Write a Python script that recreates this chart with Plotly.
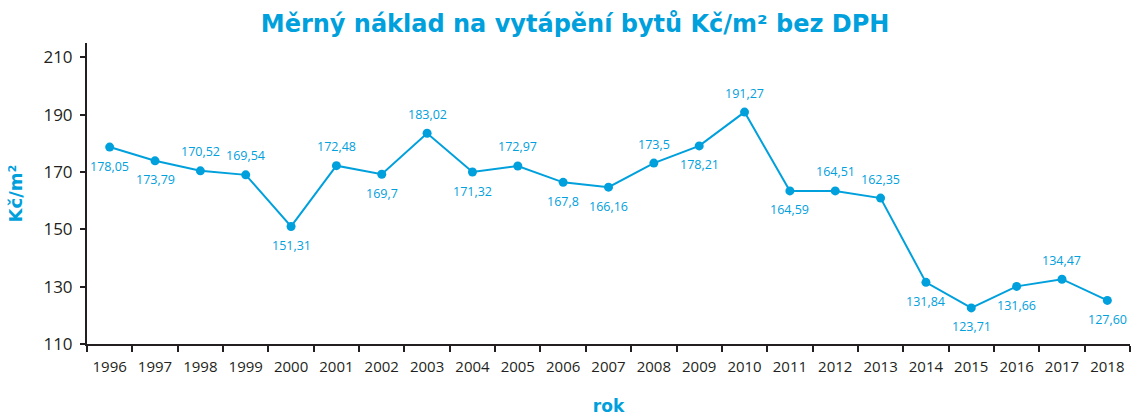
import plotly.graph_objects as go

years = [str(y) for y in range(1996, 2019)]
values = [178.7, 173.9, 170.4, 169.0, 151.0, 172.2, 169.2, 183.5, 170.0, 172.1,
          166.4, 164.7, 173.1, 179.1, 190.9, 163.4, 163.4, 160.9, 131.5, 122.6,
          130.1, 132.6, 125.2]
# data labels as printed in the picture
labels = ["178,05", "173,79", "170,52", "169,54", "151,31", "172,48", "169,7",
          "183,02", "171,32", "172,97", "167,8", "166,16", "173,5", "178,21",
          "191,27", "164,59", "164,51", "162,35", "131,84", "123,71", "131,66",
          "134,47", "127,60"]
# 1 = label above the point, -1 = below
label_side = [-1, -1, 1, 1, -1, 1, -1, 1, -1, 1, -1, -1, 1, -1, 1, -1, 1, 1,
              -1, -1, -1, 1, -1]
y_ticks = [110, 130, 150, 170, 190, 210]

BLUE = "#00a0dc"
AXIS = "#231f20"

fig = go.Figure()
fig.add_trace(go.Scatter(
    x=years, y=values, mode="lines+markers",
    line=dict(color=BLUE, width=2),
    marker=dict(color=BLUE, size=9),
    hoverinfo="skip", showlegend=False,
))

for i, (v, t, s) in enumerate(zip(values, labels, label_side)):
    fig.add_annotation(x=i, y=v, xref="x", yref="y", text=t, showarrow=False,
                       yshift=19 * s,
                       font=dict(family="Open Sans", size=12.5, color=BLUE))

fig.update_layout(
    width=1132, height=416,
    margin=dict(l=87, r=2, t=43, b=72, autoexpand=False),
    paper_bgcolor="white", plot_bgcolor="white",
    title=dict(text="<b>Měrný náklad na vytápění bytů Kč/m² bez DPH</b>",
               x=0.508, xanchor="center", y=1 - 24 / 416, yanchor="middle",
               font=dict(family="DejaVu Sans", size=24, color=BLUE)),
    font=dict(family="Open Sans", color=AXIS),
)

fig.update_xaxes(
    type="category", range=[-0.5, 22.5], automargin=False,
    showline=True, linecolor=AXIS, linewidth=2,
    ticks="outside", tickson="boundaries", ticklen=6, tickwidth=2, tickcolor=AXIS,
    ticklabelstandoff=8,
    tickfont=dict(family="Open Sans", size=15, color=AXIS),
    showgrid=False, zeroline=False,
    title=dict(text="<b>rok</b>", standoff=36,
               font=dict(family="DejaVu Sans", size=17, color=BLUE)),
)
fig.update_yaxes(
    range=[110, 215], tickvals=y_ticks, automargin=False,
    showline=True, linecolor=AXIS, linewidth=2,
    ticks="outside", ticklen=5, tickwidth=2, tickcolor=AXIS,
    ticklabelstandoff=4,
    tickfont=dict(family="Open Sans", size=17, color=AXIS),
    showgrid=False, zeroline=False,
    title=dict(text="<b>Kč/m²</b>", standoff=16,
               font=dict(family="DejaVu Sans", size=18, color=BLUE)),
)

fig.write_html("out.html", config={"displayModeBar": False},
               post_script="document.body.style.margin='0';")
